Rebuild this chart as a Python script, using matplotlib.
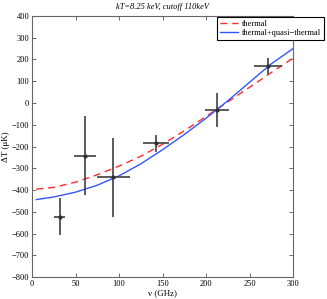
import matplotlib
matplotlib.use("Agg")
import matplotlib.pyplot as plt

# measured points
nu = [32, 61, 93.5, 143, 213, 271.5]
dT = [-523, -242, -342, -185, -32, 170]
nu_err = [6.5, 13, 19, 15, 14, 16]
dT_err = [85, 182, 180, 38, 78, 35]

# model curves
nu_model = [5, 25, 50, 75, 100, 125, 150, 175, 200, 225, 250, 275, 300]
thermal = [-396, -388, -364, -330, -290, -245, -190, -128, -62, 5, 72, 140, 206]
thermal_qt = [-444, -432, -410, -378, -335, -280, -215, -145, -70, 10, 95, 180, 250]

title = "kT=8.25 keV, cutoff 110keV"

plt.rcParams['font.family'] = ['Liberation Serif', 'DejaVu Serif']
plt.rcParams['font.size'] = 6

fig = plt.figure(figsize=(3.27, 2.99), dpi=100)
ax = fig.add_axes([32 / 327, 1 - 277 / 299, 261 / 327, 261 / 299])

ax.plot(nu_model, thermal, color='#ff2a2a', linestyle=(0, (5, 3.5)), linewidth=1.0, label='thermal')
ax.plot(nu_model, thermal_qt, color='#3355ff', linewidth=1.0, label='thermal+quasi\u2212thermal')
ax.errorbar(nu, dT, xerr=nu_err, yerr=dT_err, fmt='o', color='#303030', ecolor='#404040',
            markersize=2, elinewidth=1.2, capsize=0)

ax.set_xlim(0, 300)
ax.set_ylim(-800, 400)
ax.set_xticks([0, 50, 100, 150, 200, 250, 300])
ax.set_yticks(range(-800, 401, 100))
ax.tick_params(direction='in', top=True, right=True, length=3, width=0.6, colors='#555555',
               labelcolor='black', labelsize=6, pad=2)
for s in ax.spines.values():
    s.set_color('#666666')
    s.set_linewidth(0.8)

ax.set_xlabel('\u03bd (GHz)', fontsize=6.5, labelpad=1)
ax.set_ylabel('\u0394T (\u03bcK)', fontsize=6.5, labelpad=1)
ax.set_title(title, fontsize=6, style='italic', pad=5)

leg = ax.legend(loc='upper right', bbox_to_anchor=(324 / 327, 1 - 17 / 299),
                bbox_transform=fig.transFigure, fontsize=6, fancybox=False,
                edgecolor='black', framealpha=1, borderpad=0.3, labelspacing=0.2,
                handlelength=2.2, handletextpad=0.5, borderaxespad=0)
leg.get_frame().set_linewidth(0.8)

fig.savefig('out.png', dpi=100)
